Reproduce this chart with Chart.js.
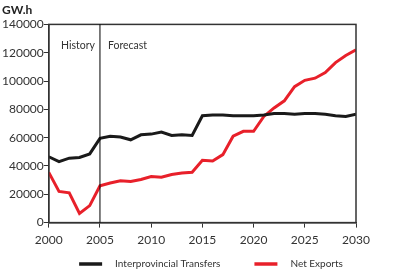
<!DOCTYPE html>
<html>
<head>
<meta charset="utf-8">
<script src="https://cdn.jsdelivr.net/npm/chart.js@4"></script>
<style>
  html, body { margin: 0; padding: 0; background: #fff; }
  #wrap { width: 400px; height: 277px; }
</style>
</head>
<body>
<div id="wrap"><canvas id="myChart"></canvas></div>
<script>
const years = [2000, 2001, 2002, 2003, 2004, 2005, 2006, 2007, 2008, 2009, 2010,
    2011, 2012, 2013, 2014, 2015, 2016, 2017, 2018, 2019, 2020,
    2021, 2022, 2023, 2024, 2025, 2026, 2027, 2028, 2029, 2030];
const interprovincial = [46500, 43000, 45500, 46000, 48500, 59500, 61000, 60500, 58500, 62000, 62500,
    64000, 61500, 62000, 61500, 75500, 76000, 76000, 75500, 75500, 75500,
    76000, 77000, 77000, 76500, 77000, 77000, 76500, 75500, 75000, 76500];
const netExports = [35500, 22000, 21000, 6500, 12000, 26000, 28000, 29500, 29000, 30500, 32500,
    32000, 34000, 35000, 35500, 44000, 43500, 48000, 61000, 64500, 64500,
    75000, 81000, 86000, 96000, 100500, 102000, 106000, 113000, 118000, 122000];
const xTicks = [2000, 2005, 2010, 2015, 2020, 2025, 2030];
const yTicks = [0, 20000, 40000, 60000, 80000, 100000, 120000, 140000];
const splitYear = 2005;

const fontFam = 'Lato, "DejaVu Sans", sans-serif';

// frame, history/forecast split and a bottom legend
const framePlugin = {
    id: 'frame',
    afterDatasetsDraw(chart) {
        const c = chart.ctx;
        const a = chart.chartArea;
        const xs = chart.scales.x.getPixelForValue(splitYear);
        c.save();
        c.strokeStyle = '#333';
        c.lineWidth = 1.5;
        c.strokeRect(a.left, a.top, a.right - a.left, a.bottom - a.top);
        c.beginPath();
        c.moveTo(xs, a.top);
        c.lineTo(xs, a.bottom);
        c.lineWidth = 1;
        c.strokeStyle = '#000';
        c.stroke();
        c.fillStyle = '#333';
        c.font = '10.5px ' + fontFam;
        c.textBaseline = 'middle';
        c.textAlign = 'right';
        c.fillText('History', xs - 5, a.top + 21);
        c.textAlign = 'left';
        c.fillText('Forecast', xs + 8, a.top + 21);

        // legend
        const sw = 23, gapText = 13, gapItem = 34;
        c.font = '10px ' + fontFam;
        const sets = chart.data.datasets;
        const widths = sets.map(d => sw + gapText + c.measureText(d.label).width);
        const total = widths.reduce((s, w) => s + w, 0) + gapItem * (sets.length - 1);
        let x = chart.width / 2 + 11 - total / 2;
        const y = 264;
        sets.forEach((d, i) => {
            c.beginPath();
            c.moveTo(x, y);
            c.lineTo(x + sw, y);
            c.strokeStyle = d.borderColor;
            c.lineWidth = 3.5;
            c.stroke();
            c.fillStyle = '#333';
            c.textAlign = 'left';
            c.fillText(d.label, x + sw + gapText, y);
            x += widths[i] + gapItem;
        });
        c.restore();
    }
};

new Chart(document.getElementById('myChart'), {
    type: 'line',
    data: {
        labels: years,
        datasets: [{
            label: 'Interprovincial Transfers',
            data: interprovincial,
            borderColor: '#1a1a1a',
            backgroundColor: '#1a1a1a',
            borderWidth: 3,
            pointRadius: 0,
            tension: 0
        }, {
            label: 'Net Exports',
            data: netExports,
            borderColor: '#e8202a',
            backgroundColor: '#e8202a',
            borderWidth: 3,
            pointRadius: 0,
            tension: 0
        }]
    },
    options: {
        responsive: true,
        maintainAspectRatio: false,
        animation: false,
        layout: { padding: { left: 2, right: 44, top: 0, bottom: 25 } },
        scales: {
            x: {
                type: 'linear',
                min: 2000,
                max: 2030,
                afterBuildTicks(s) { s.ticks = xTicks.map(v => ({ value: v })); },
                grid: { drawOnChartArea: false, tickLength: 5, color: '#333' },
                border: { color: '#333', width: 1.5 },
                ticks: { color: '#333', font: { family: fontFam, size: 12 }, padding: 5, maxRotation: 0,
                    callback: v => String(v) }
            },
            y: {
                min: 0,
                max: 140000,
                afterBuildTicks(s) { s.ticks = yTicks.map(v => ({ value: v })); },
                grid: { drawOnChartArea: false, tickLength: 5, color: '#333' },
                border: { color: '#333', width: 1.5 },
                ticks: { color: '#333', font: { family: fontFam, size: 12 }, padding: 0,
                    callback: v => String(v) }
            }
        },
        plugins: {
            title: {
                display: true,
                text: 'GW.h',
                align: 'start',
                color: '#222',
                font: { family: fontFam, size: 12, weight: 'bold' },
                padding: { top: 3, bottom: 7 }
            },
            legend: { display: false },
            tooltip: { enabled: false }
        }
    },
    plugins: [framePlugin]
});
</script>
</body>
</html>
